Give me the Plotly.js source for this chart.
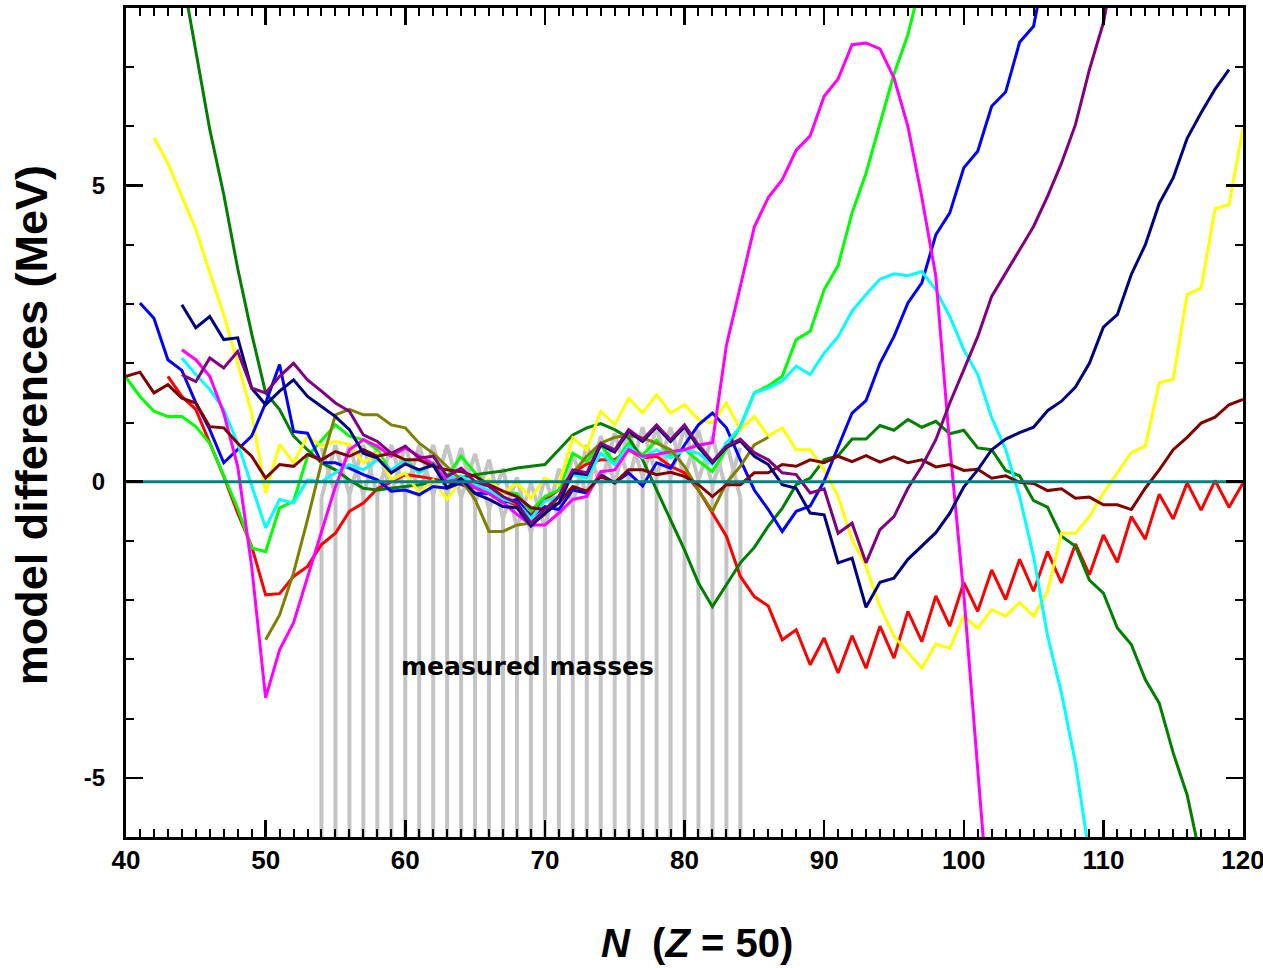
<!DOCTYPE html>
<html>
<head>
<meta charset="utf-8">
<script src="https://cdn.plot.ly/plotly-3.0.1.min.js"></script>
<style>html,body{margin:0;padding:0;background:#fff;}#chart{width:1263px;height:968px;}</style>
</head>
<body>
<div id="chart"></div>
<script>
// ---- data, values in MeV, indexed by N starting at *Start ----
const redStart = 43;
const redVals = [1.78,1.44,1.22,0.66,0.09,-0.53,-1.09,-1.91,-1.89,-1.6,-1.43,-1.06,-0.87,-0.5,-0.36,-0.12,0.0,0.12,0.09,0.05,0.0,-0.05,-0.1,-0.2,-0.3,-0.4,-0.55,-0.3,-0.14,0.15,0.3,0.37,0.37,0.54,0.4,0.43,0.26,0.15,-0.14,-0.53,-0.92,-1.6,-1.94,-2.1,-2.67,-2.5,-3.09,-2.64,-3.23,-2.6,-3.15,-2.44,-2.98,-2.19,-2.7,-1.93,-2.44,-1.7,-2.19,-1.49,-1.99,-1.31,-1.85,-1.18,-1.71,-1.05,-1.57,-0.9,-1.36,-0.59,-0.97,-0.21,-0.63,-0.02,-0.48,0.02,-0.43,-0.02];

const limeStart = 40;
const limeVals = [1.76,1.44,1.19,1.1,1.1,0.93,0.65,0.09,-0.45,-1.12,-1.18,-0.44,-0.33,0.43,0.7,0.96,0.77,0.71,0.54,0.15,0.37,0.15,0.32,0.09,0.43,0.15,-0.08,-0.19,-0.2,-0.5,-0.25,-0.14,0.48,0.34,0.62,0.32,0.65,0.45,0.7,0.45,0.55,0.35,0.17,0.54,0.93,1.5,1.62,1.78,2.4,2.54,3.24,3.65,4.54,5.21,6.06,6.88,7.55,8.5];

const dkgreenStart = 44;
const dkgreenVals = [8.6,7.25,5.95,4.85,3.6,2.5,1.5,1.22,0.77,0.54,0.32,0.2,0.03,-0.11,-0.14,-0.11,-0.08,-0.05,0.0,0.03,0.07,0.12,0.15,0.18,0.23,0.26,0.29,0.54,0.79,0.91,0.98,0.88,0.74,0.37,-0.14,-0.64,-1.15,-1.71,-2.11,-1.74,-1.37,-1.11,-0.75,-0.45,-0.05,0.06,0.37,0.44,0.72,0.72,0.95,0.87,1.05,0.92,1.02,0.81,0.87,0.57,0.54,0.19,0.1,-0.32,-0.43,-0.92,-1.09,-1.66,-1.88,-2.47,-2.75,-3.34,-3.74,-4.58,-5.29,-6.4];

const yellowStart = 42;
const yellowVals = [5.81,5.38,4.82,4.26,3.53,2.82,2.0,1.16,-0.19,0.63,0.32,0.77,0.6,0.68,0.63,0.32,0.48,0.03,0.15,-0.19,0.03,-0.3,0.03,-0.08,0.05,-0.2,-0.02,-0.28,0.06,-0.05,0.74,0.54,1.19,0.96,1.41,1.16,1.47,1.16,1.3,1.05,0.99,1.33,0.88,1.1,0.77,0.91,0.54,0.54,0.2,-0.25,-0.98,-1.43,-2.11,-2.61,-2.88,-3.15,-2.74,-2.81,-2.27,-2.47,-2.16,-2.27,-2.04,-2.27,-1.85,-0.87,-0.87,-0.59,-0.19,0.16,0.49,0.6,1.67,1.73,3.16,3.27,4.61,4.68,5.97];

const blueStart = 41;
const blueVals = [3.02,2.76,2.06,1.88,1.33,0.88,0.32,0.54,0.77,1.33,1.98,0.85,0.82,0.32,0.32,0.23,0.12,0.03,-0.16,-0.14,-0.22,-0.08,-0.11,-0.02,-0.19,-0.2,-0.35,-0.3,-0.59,-0.42,-0.47,-0.14,-0.19,0.12,-0.02,0.15,-0.07,0.32,0.23,0.62,0.96,1.16,0.91,0.37,-0.14,-0.47,-0.84,-0.5,-0.41,0.01,0.6,1.16,1.37,2.0,2.45,3.02,3.36,4.17,4.54,5.3,5.58,6.34,6.58,7.42,7.69,8.9];

const navyStart = 44;
const navyVals = [2.99,2.6,2.79,2.4,2.43,1.58,1.3,1.53,1.72,1.44,1.27,1.1,0.88,0.48,0.4,0.15,0.3,0.2,0.28,-0.1,0.05,-0.2,-0.3,-0.42,-0.44,-0.75,-0.53,-0.36,0.15,0.12,0.62,0.5,0.85,0.68,0.93,0.68,0.93,0.58,0.32,0.58,0.69,0.43,0.29,-0.05,-0.11,-0.53,-0.56,-1.37,-1.29,-2.12,-1.7,-1.63,-1.31,-1.09,-0.86,-0.53,-0.09,0.2,0.54,0.72,0.83,0.92,1.2,1.36,1.6,2.0,2.61,2.82,3.5,4.0,4.7,5.13,5.8,6.23,6.63,6.96];

const cyanStart = 44;
const cyanVals = [2.09,1.81,1.56,1.22,0.65,-0.08,-0.78,-0.3,-0.36,0.03,0.0,0.15,0.29,0.2,0.37,0.2,0.35,0.15,0.3,0.05,0.1,-0.05,-0.15,-0.3,-0.36,-0.62,-0.33,-0.25,0.12,0.06,0.48,0.29,0.6,0.4,0.54,0.4,0.54,0.48,0.29,0.65,0.93,1.5,1.58,1.7,1.95,1.81,2.17,2.45,2.88,3.16,3.42,3.51,3.48,3.55,3.24,2.79,2.23,1.81,1.08,0.55,-0.25,-1.26,-2.6,-3.57,-4.75,-6.3];

const magentaStart = 44;
const magentaVals = [2.23,2.06,1.78,1.16,0.26,-1.43,-3.65,-2.84,-2.38,-1.6,-0.86,-0.08,0.54,0.71,0.6,0.43,0.57,0.43,0.3,0.0,0.05,-0.1,-0.2,-0.35,-0.55,-0.73,-0.73,-0.53,-0.3,-0.25,0.17,0.2,0.54,0.43,0.46,0.51,0.54,0.62,0.66,2.3,3.3,4.3,4.8,5.1,5.6,5.84,6.51,6.8,7.38,7.41,7.31,6.82,6.0,4.8,3.47,0.6,-1.9,-4.8,-7.8];

const purpleStart = 44;
const purpleVals = [1.81,1.69,2.09,1.92,2.2,1.58,1.5,1.78,2.0,1.72,1.53,1.33,1.19,0.79,0.68,0.48,0.6,0.4,0.43,0.09,0.23,0.0,-0.08,-0.25,-0.36,-0.7,-0.47,-0.25,0.2,0.15,0.65,0.54,0.88,0.71,0.96,0.71,0.96,0.62,0.34,0.6,0.72,0.49,0.37,0.15,0.12,-0.19,-0.12,-0.87,-0.7,-1.37,-0.81,-0.59,-0.11,0.26,0.71,1.33,1.89,2.45,3.13,3.53,3.92,4.31,4.82,5.38,6.03,6.96,7.75,9.0];

const oliveStart = 50;
const oliveVals = [-2.67,-2.25,-1.54,-0.64,0.32,1.13,1.22,1.13,1.13,0.96,0.91,0.65,0.48,0.26,0.03,-0.3,-0.84,-0.84,-0.73,-0.7,-0.56,-0.25,0.15,0.43,0.65,0.75,0.78,0.74,0.65,0.54,0.26,-0.14,-0.5,-0.02,0.26,0.62,0.75];

const maroonStart = 40;
const maroonVals = [1.78,1.85,1.5,1.64,1.41,1.33,0.93,0.91,0.65,0.43,0.06,0.29,0.26,0.46,0.37,0.51,0.43,0.54,0.43,0.48,0.37,0.37,0.26,0.2,0.17,0.09,-0.05,-0.16,-0.25,-0.44,-0.47,-0.36,-0.08,-0.16,0.09,-0.02,0.2,0.2,0.12,0.16,0.09,-0.05,-0.25,-0.05,-0.05,0.15,0.15,0.29,0.26,0.37,0.32,0.43,0.34,0.44,0.33,0.42,0.32,0.37,0.25,0.29,0.19,0.21,0.06,0.1,-0.01,-0.03,-0.15,-0.12,-0.28,-0.26,-0.39,-0.39,-0.47,-0.11,0.2,0.54,0.75,0.99,1.09,1.3,1.39];

// measured masses: N range and the top / bottom of the gray diamond band at each N
const measStart = 54;
const measTop    = [0.57,0.62,0.62,0.62,0.62,0.62,0.62,0.62,0.62,0.62,0.57,0.47,0.37,0.22,0.07,-0.03,0.07,0.22,0.47,0.62,0.77,0.82,0.87,0.92,0.92,0.92,0.92,0.87,0.77,0.67,0.57];
const measBottom = [-0.27,-0.22,-0.22,-0.22,-0.22,-0.22,-0.22,-0.22,-0.22,-0.22,-0.27,-0.37,-0.47,-0.62,-0.77,-0.87,-0.77,-0.62,-0.37,-0.22,-0.07,-0.02,0.03,0.08,0.08,0.08,0.08,0.03,-0.07,-0.17,-0.27];

const xTicks = [40,50,60,70,80,90,100,110,120];
const yTicks = [-5,0,5];
const xRange = [40,120];
const yRange = [-6,8];

// ---- build traces ----
function seq(start, n){ return Array.from({length:n}, (_, i) => start + i); }
function series(start, vals, color){
  return {x: seq(start, vals.length), y: vals, type:'scatter', mode:'lines',
          line:{color:color, width:3}, hoverinfo:'skip', showlegend:false};
}

const gray = '#c4c4c4';
const traces = [];
const measN = seq(measStart, measTop.length);
const vx = [], vy = [];
measN.forEach((n, i) => { vx.push(n, n, null); vy.push(yRange[0] - 1, measBottom[i], null); });
traces.push({x:vx, y:vy, type:'scatter', mode:'lines', line:{color:gray, width:4}, hoverinfo:'skip', showlegend:false});
const zA = measN.map((n, i) => (n % 2 === 0 ? measTop[i] : measBottom[i]));
const zB = measN.map((n, i) => (n % 2 === 0 ? measBottom[i] : measTop[i]));
traces.push({x:measN, y:zA, type:'scatter', mode:'lines', line:{color:gray, width:4}, hoverinfo:'skip', showlegend:false});
traces.push({x:measN, y:zB, type:'scatter', mode:'lines', line:{color:gray, width:4}, hoverinfo:'skip', showlegend:false});

traces.push(series(redStart, redVals, '#ff0000'));
traces.push(series(limeStart, limeVals, '#00ff00'));
traces.push(series(dkgreenStart, dkgreenVals, '#008000'));
traces.push(series(yellowStart, yellowVals, '#ffff00'));
traces.push(series(blueStart, blueVals, '#0000ff'));
traces.push(series(cyanStart, cyanVals, '#00ffff'));
traces.push(series(magentaStart, magentaVals, '#ff00ff'));
traces.push(series(oliveStart, oliveVals, '#808000'));
traces.push(series(maroonStart, maroonVals, '#800000'));
traces.push(series(navyStart, navyVals, '#000080'));
traces.push(series(purpleStart, purpleVals, '#800080'));
traces.push({x:xRange, y:[0,0], type:'scatter', mode:'lines', line:{color:'#008080', width:3}, hoverinfo:'skip', showlegend:false});

const axisCommon = {
  showgrid:false, zeroline:false, showline:true, linecolor:'#000', linewidth:3,
  mirror:'allticks', ticks:'inside', ticklen:17, tickwidth:2.5, tickcolor:'#000',
  ticklabeloverflow:'allow'
};

const layout = {
  width:1263, height:968,
  margin:{l:126, r:20, t:8, b:131},
  paper_bgcolor:'#fff', plot_bgcolor:'#fff',
  showlegend:false,
  xaxis: Object.assign({}, axisCommon, {
    range:xRange, tickmode:'array', tickvals:xTicks, ticktext:xTicks.map(String),
    minor:{dtick:1, ticks:'inside', ticklen:8, tickwidth:2, tickcolor:'#000'},
    tickfont:{family:'"Liberation Sans", Arial', size:26, color:'#000', weight:'bold'},
    ticklabelstandoff:-2
  }),
  yaxis: Object.assign({}, axisCommon, {
    range:yRange, tickmode:'array', tickvals:yTicks, ticktext:yTicks.map(String),
    minor:{dtick:1, ticks:'inside', ticklen:8, tickwidth:2, tickcolor:'#000'},
    tickfont:{family:'"Liberation Sans", Arial', size:24, color:'#000', weight:'bold'},
    ticklabelstandoff:13
  }),
  annotations:[
    {text:'model differences (MeV)', xref:'paper', yref:'paper', x:-0.084, y:0.497,
     textangle:-90, showarrow:false, xanchor:'center', yanchor:'middle',
     font:{family:'"Liberation Sans", Arial', size:45, color:'#000', weight:'bold'}},
    {text:'<i>N</i>  (<i>Z</i> = 50)', xref:'paper', yref:'paper', x:0.511, y:-0.128,
     showarrow:false, xanchor:'center', yanchor:'middle',
     font:{family:'"Liberation Sans", Arial', size:40, color:'#000', weight:'bold'}},
    {text:'measured masses', xref:'x', yref:'y', x:68.73, y:-3.12, showarrow:false,
     xanchor:'center', yanchor:'middle',
     font:{family:'"DejaVu Sans", "Liberation Sans", Arial', size:25, color:'#000', weight:'bold'}}
  ]
};

Plotly.newPlot('chart', traces, layout, {staticPlot:true, displayModeBar:false});
</script>
</body>
</html>
